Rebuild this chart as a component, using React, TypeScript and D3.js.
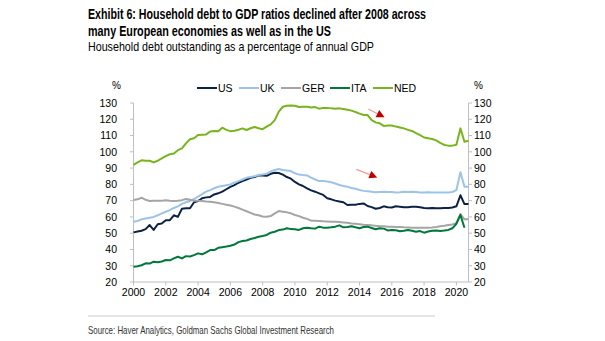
import React from "react";
import * as d3 from "d3";

// Quarterly values, 2000Q1 .. 2020Q4 (percent of GDP)
const startYear = 2000;
const usValues = [
  50.5, 51, 51.5, 52.5, 55, 52, 55.5, 56, 58, 58, 61, 60, 65, 65.3, 65.3, 69,
  69.7, 71.5, 72, 72.3, 73.8, 74.5, 75.5, 77, 78.5, 79.5, 81, 82, 83, 84, 84.5, 85.5,
  85.5, 85.3, 86.5, 87.1, 87, 86, 84.5, 83.5, 81.5, 80, 79, 77.5, 76.3, 75.5, 74.5, 73.5,
  71.5, 70.8, 70, 69.5, 69, 67.3, 67.5, 67.5, 68, 68.3, 66.7, 66, 65, 65.5, 66.5, 66,
  65.8, 66.5, 66.3, 66, 66, 66.2, 66.3, 66, 65.5, 65.3, 65.5, 65.3, 65.3, 65.5, 65.5, 65.8,
  66.5, 73.3, 67.9, 67.9,
];
const ukValues = [
  57, 57.5, 58.5, 59, 59.5, 60, 61, 62.2, 63.2, 64.2, 65.5, 66.5, 68, 69, 69.8, 71,
  72.5, 74, 75.5, 76.5, 77.6, 78.5, 79, 79.5, 80, 81, 82, 83, 84, 84.5, 85, 85.7,
  86, 86.5, 88, 88.8, 89.4, 88.8, 88.5, 88.2, 86.8, 86, 85.7, 85.5, 84.1, 83, 82, 82,
  81.7, 81.3, 80.5, 79.6, 79, 78.6, 77.8, 77.3, 76.5, 76, 75.8, 75.5, 75.1, 75.3, 75.5, 75.3,
  75.3, 75, 75.2, 75.5, 75.3, 75.5, 75.3, 75, 75, 75.2, 75, 75, 75, 75, 75, 75.3,
  76.5, 87.4, 78.6, 78.6,
];
const gerValues = [
  70.4, 70.8, 71.8, 70.5, 69.8, 70, 70, 70, 70.3, 70, 69.8, 70, 70.3, 71, 70.5, 70,
  70, 69.8, 69.5, 69.3, 69, 68.5, 68, 67.5, 67, 66.3, 65.5, 64.5, 63.5, 62.5, 61.5, 61,
  60.3, 60.1, 60.5, 62.2, 63.6, 63.2, 62.8, 62.2, 61.2, 60.5, 59.5, 58.8, 57.7, 57.6, 57.5, 57.3,
  57.2, 57.1, 57, 56.8, 56.6, 56.4, 56, 55.8, 55.5, 55.2, 55, 54.8, 54.5, 54.3, 54.2, 54,
  54, 53.8, 53.8, 53.6, 53.5, 53.4, 53.4, 53.3, 53.3, 53.4, 53.5, 53.8, 54.3, 54.6, 55, 55.4,
  56.2, 61.8, 58.5, 58.5,
];
const itaValues: (number | null)[] = [
  29.4, 29.7, 30.3, 31.5, 31.3, 32.5, 32.2, 32.6, 33.5, 33.3, 34.5, 35.5, 34.5, 35.9, 35.7, 36.5,
  37.6, 37, 38.2, 39.6, 39.6, 41, 41.4, 41.8, 42.3, 43, 44.5, 45.2, 45.5, 46.4, 47, 47.8,
  48.3, 48.9, 50.3, 50.9, 51.9, 52.2, 53, 52.5, 52.4, 52, 53, 53.4, 53, 52.8, 54, 53.4,
  53.4, 53.6, 54, 54.8, 53.6, 53.8, 54.3, 53.6, 53, 53.8, 54, 53.2, 52.4, 53, 52.8, 51.7,
  52, 51.8, 51.2, 51.5, 52, 51.5, 50.9, 51.3, 50.3, 51, 51.5, 51.7, 51.3, 51.6, 52, 53,
  55.8, 61.2, 53.3, null,
];
const nedValues = [
  92, 93.5, 94.8, 94.5, 94.5, 93.5, 94.5, 96, 97.4, 98.5, 99, 101, 102.1, 105.2, 107.7, 108.3,
  110.3, 110.5, 110.7, 112.5, 112.8, 112.6, 114.8, 113.5, 112.7, 113, 113.6, 114.4, 113.4, 114.5, 115.2, 114.5,
  113.9, 115.5, 116.9, 119.5, 124.7, 127.7, 128.3, 128.5, 128.3, 127.5, 127.7, 127.7, 127.3, 127.5, 126.5, 127,
  127, 126.7, 126.5, 126.7, 126.3, 125.9, 125.3, 124.5, 123.5, 122.6, 122.6, 119.5, 118.1, 117.5, 115.9, 116.2,
  116.2, 115.5, 115, 114.4, 113.5, 112.8, 111.5, 110.2, 108.8, 108.3, 107.9, 107, 105.5, 104.2, 103.8, 103.8,
  104.4, 114.4, 106.2, 106.8,
];

const seriesNames = ["US", "UK", "GER", "ITA", "NED"];
const seriesColors = ["#0c2244", "#9dc3e6", "#a5a5a5", "#00773b", "#78b41e"];
const seriesData = [usValues, ukValues, gerValues, itaValues, nedValues];

const yTicks = [20, 30, 40, 50, 60, 70, 80, 90, 100, 110, 120, 130];
const xTicks = [2000, 2002, 2004, 2006, 2008, 2010, 2012, 2014, 2016, 2018, 2020];

// annotation arrows: [x0, y0, x1, y1] in data units
const arrows = [
  [2014.55, 126.3, 2015.55, 121.2],
  [2013.8, 89.2, 2015.1, 84.2],
];

const titleLines = [
  "Exhibit 6: Household debt to GDP ratios declined after 2008 across",
  "many European economies as well as in the US",
];
const subtitle = "Household debt outstanding as a percentage of annual GDP";
const source = "Source: Haver Analytics, Goldman Sachs Global Investment Research";

const sans = "'Liberation Sans', Arial, sans-serif";

export default function App() {
  const W = 605;
  const H = 341;
  const x = d3.scaleLinear().domain([2000, 2020.75]).range([133.5, 468.5]);
  const y = d3.scaleLinear().domain([20, 130]).range([282, 103]);
  const axisColor = "#bfbfbf";

  const line = d3
    .line<[number, number | null]>()
    .defined((d) => d[1] !== null)
    .x((d) => x(d[0]))
    .y((d) => y(d[1] as number));

  const legendX = [197, 239, 281, 330, 373];
  const titleWidths = [338, 243];

  return (
    <svg width={W} height={H} style={{ position: "absolute", left: 0, top: 0, background: "#fff" }}>
      {titleLines.map((t, i) => (
        <text
          key={i}
          x={88}
          y={18.5 + i * 17.5}
          fontFamily={sans}
          fontWeight="bold"
          fontSize={15.5}
          fill="#000"
          textLength={titleWidths[i]}
          lengthAdjust="spacingAndGlyphs"
        >
          {t}
        </text>
      ))}
      <text x={88} y={51} fontFamily={sans} fontSize={13.5} fill="#000" textLength={286} lengthAdjust="spacingAndGlyphs">
        {subtitle}
      </text>

      {/* legend */}
      {seriesNames.map((n, i) => (
        <g key={n}>
          <line x1={legendX[i]} x2={legendX[i] + 20} y1={88} y2={88} stroke={seriesColors[i]} strokeWidth={2} />
          <text x={legendX[i] + 21} y={91.8} fontFamily={sans} fontSize={10.5} fill="#000">
            {n}
          </text>
        </g>
      ))}

      {/* axes */}
      <text x={112} y={89} fontFamily={sans} fontSize={10} fill="#000">%</text>
      <text x={474} y={89} fontFamily={sans} fontSize={10} fill="#000">%</text>
      <line x1={x(2000)} x2={x(2000)} y1={y(130)} y2={y(20)} stroke={axisColor} strokeWidth={1} />
      <line x1={x(2020.75)} x2={x(2020.75)} y1={y(130)} y2={y(20)} stroke={axisColor} strokeWidth={1} />
      <line x1={x(2000)} x2={x(2020.75)} y1={y(20)} y2={y(20)} stroke={axisColor} strokeWidth={1} />
      {yTicks.map((t) => (
        <g key={t}>
          <line x1={x(2000) - 3.5} x2={x(2000)} y1={y(t)} y2={y(t)} stroke={axisColor} />
          <line x1={x(2020.75)} x2={x(2020.75) + 3.5} y1={y(t)} y2={y(t)} stroke={axisColor} />
          <text x={117} y={y(t) + 3.8} textAnchor="end" fontFamily={sans} fontSize={10.5} fill="#000">
            {t}
          </text>
          <text x={474} y={y(t) + 3.8} fontFamily={sans} fontSize={10.5} fill="#000">
            {t}
          </text>
        </g>
      ))}
      {xTicks.map((t) => (
        <g key={t}>
          <line x1={x(t)} x2={x(t)} y1={y(20)} y2={y(20) + 3.5} stroke={axisColor} />
          <text x={x(t)} y={296} textAnchor="middle" fontFamily={sans} fontSize={10.5} fill="#000">
            {t}
          </text>
        </g>
      ))}

      {/* series */}
      {seriesData.map((vals, i) => {
        const pts: [number, number | null][] = vals.map((v, k) => [startYear + k / 4, v]);
        return (
          <path key={i} d={line(pts) || ""} fill="none" stroke={seriesColors[i]} strokeWidth={2} strokeLinejoin="round" />
        );
      })}

      {/* arrows */}
      {arrows.map((a, i) => {
        const x0 = x(a[0]), y0 = y(a[1]), x1 = x(a[2]), y1 = y(a[3]);
        const ang = Math.atan2(y1 - y0, x1 - x0);
        const L = 8, Wd = 4;
        const bx = x1 - L * Math.cos(ang), by = y1 - L * Math.sin(ang);
        const px = -Math.sin(ang) * Wd, py = Math.cos(ang) * Wd;
        return (
          <g key={i}>
            <line x1={x0} y1={y0} x2={bx} y2={by} stroke="#f09a9a" strokeWidth={1.2} />
            <path d={`M${x1},${y1}L${bx + px},${by + py}L${bx - px},${by - py}Z`} fill="#c00000" />
          </g>
        );
      })}

      <line x1={88} x2={435} y1={316} y2={316} stroke="#dcdcdc" strokeWidth={1.5} />
      <text x={88} y={333.5} fontFamily={sans} fontSize={11.5} fill="#333" textLength={246} lengthAdjust="spacingAndGlyphs">
        {source}
      </text>
    </svg>
  );
}
